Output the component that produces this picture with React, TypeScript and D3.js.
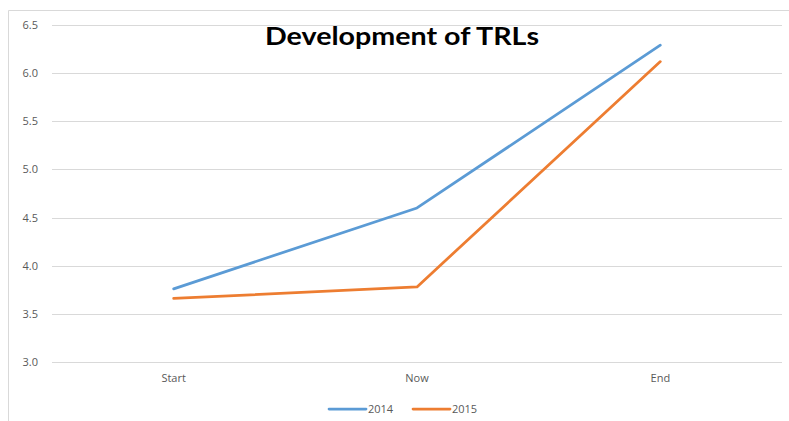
import * as d3 from "d3";
import { useRef, useEffect } from "react";

const WIDTH = 789;
const HEIGHT = 421;
const MARGIN = { top: 25, right: 7, bottom: 59, left: 52 };

const categories = ["Start", "Now", "End"];
const values2014 = [3.76, 4.6, 6.29];
const values2015 = [3.66, 3.78, 6.12];
const yTicks = [3.0, 3.5, 4.0, 4.5, 5.0, 5.5, 6.0, 6.5];
const seriesNames = ["2014", "2015"];
const COLORS = ["#5b9bd5", "#ed7d31"];

export default function App() {
  const svgRef = useRef(null);

  useEffect(() => {
    const svg = d3.select(svgRef.current);
    svg.selectAll("*").remove();

    const innerWidth = WIDTH - MARGIN.left - MARGIN.right;
    const innerHeight = HEIGHT - MARGIN.top - MARGIN.bottom;

    const xScale = d3.scaleBand().domain(categories).range([0, innerWidth]);
    const yScale = d3.scaleLinear().domain([3, 6.5]).range([innerHeight, 0]);

    // Chart frame (left + top edges visible)
    svg.append("rect").attr("width", WIDTH).attr("height", HEIGHT).attr("fill", "#fff");
    svg.append("path")
      .attr("d", `M8.5,${HEIGHT} V10.5 H${WIDTH}`)
      .attr("fill", "none")
      .attr("stroke", "#d9d9d9");

    const g = svg.append("g").attr("transform", `translate(${MARGIN.left},${MARGIN.top})`);

    // Gridlines
    g.selectAll(".grid")
      .data(yTicks)
      .enter()
      .append("line")
      .attr("x1", 0)
      .attr("x2", innerWidth)
      .attr("y1", (d) => Math.round(yScale(d)) + 0.5)
      .attr("y2", (d) => Math.round(yScale(d)) + 0.5)
      .attr("stroke", "#d9d9d9")
      .attr("stroke-width", 1);

    // Y tick labels
    g.selectAll(".ylab")
      .data(yTicks)
      .enter()
      .append("text")
      .attr("x", -14)
      .attr("y", (d) => yScale(d) + 4)
      .attr("text-anchor", "end")
      .style("font-family", "'Open Sans', sans-serif")
      .style("font-size", "11px")
      .attr("fill", "#595959")
      .text((d) => d.toFixed(1));

    // X labels
    g.selectAll(".xlab")
      .data(categories)
      .enter()
      .append("text")
      .attr("x", (d) => xScale(d) + xScale.bandwidth() / 2)
      .attr("y", innerHeight + 20)
      .attr("text-anchor", "middle")
      .style("font-family", "'Open Sans', sans-serif")
      .style("font-size", "11px")
      .attr("fill", "#595959")
      .text((d) => d);

    // Lines
    const line = d3
      .line<number>()
      .x((_, i) => xScale(categories[i]) + xScale.bandwidth() / 2)
      .y((d) => yScale(d));

    [values2014, values2015].forEach((vals, i) => {
      g.append("path")
        .datum(vals)
        .attr("d", line)
        .attr("fill", "none")
        .attr("stroke", COLORS[i])
        .attr("stroke-width", 2.75)
        .attr("stroke-linejoin", "round")
        .attr("stroke-linecap", "round");
    });

    // Legend
    const legend = svg.append("g").attr("transform", "translate(329,409)");
    seriesNames.forEach((name, i) => {
      const lg = legend.append("g").attr("transform", `translate(${i * 84},0)`);
      lg.append("line")
        .attr("x1", 0)
        .attr("x2", 37)
        .attr("stroke", COLORS[i])
        .attr("stroke-width", 2.75)
        .attr("stroke-linecap", "round");
      lg.append("text")
        .attr("x", 39)
        .attr("y", 4)
        .style("font-family", "'Open Sans', sans-serif")
        .style("font-size", "11px")
        .attr("fill", "#595959")
        .text(name);
    });

    // Title
    svg
      .append("text")
      .attr("x", 402)
      .attr("y", 45)
      .attr("text-anchor", "middle")
      .attr("textLength", 274)
      .attr("lengthAdjust", "spacingAndGlyphs")
      .style("font-family", "Lato, sans-serif")
      .style("font-size", "24px")
      .style("font-weight", "bold")
      .attr("fill", "#000")
      .text("Development of TRLs");
  }, []);

  return (
    <svg
      ref={svgRef}
      width={WIDTH}
      height={HEIGHT}
      style={{ position: "absolute", left: 0, top: 0, display: "block" }}
    />
  );
}
